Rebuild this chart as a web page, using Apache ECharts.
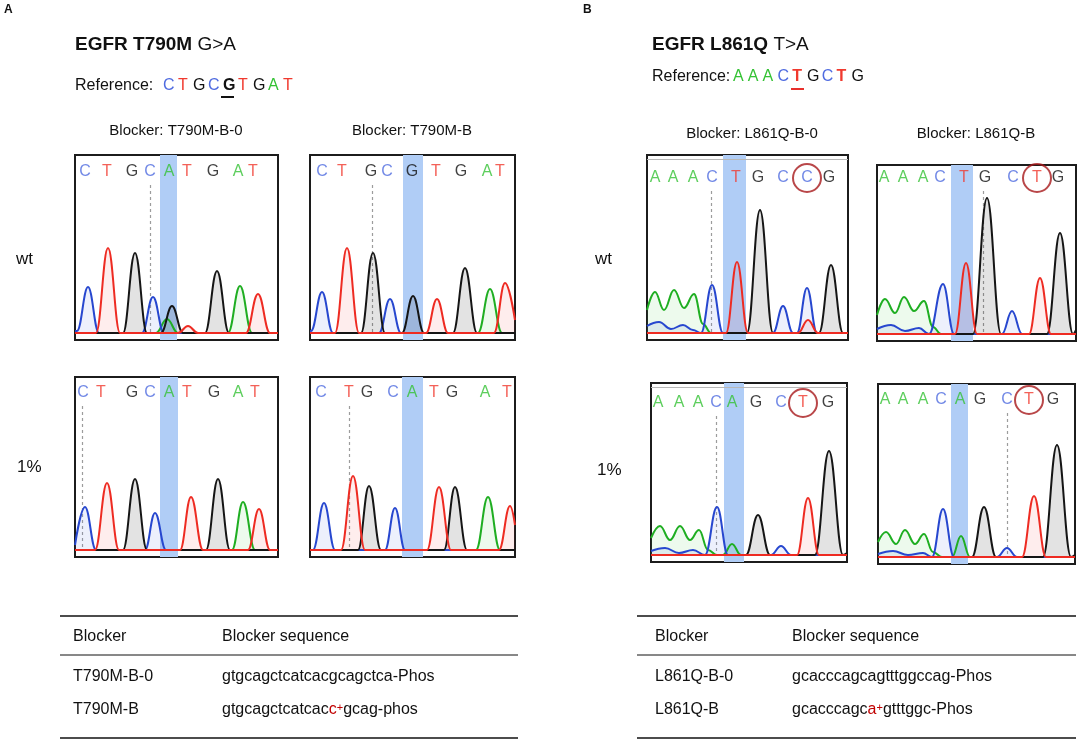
<!DOCTYPE html>
<html>
<head>
<meta charset="utf-8">
<script src="https://cdn.jsdelivr.net/npm/echarts@6/dist/echarts.min.js"></script>
<style>
  html, body { margin: 0; padding: 0; background: #fff; }
  #chart { width: 1084px; height: 740px; }
</style>
</head>
<body>
<div id="chart"></div>
<script>
const FONT = '"Liberation Sans", Arial, Helvetica, sans-serif';

// ---- reference sequences (titles) ----
const refA = ['C', 'T', 'G', 'C', 'G', 'T', 'G', 'A', 'T'];
const refB = ['A', 'A', 'A', 'C', 'T', 'G', 'C', 'T', 'G'];

// ---- base calls above each trace: letter + x (px from panel left) ----
const t790_wt_b0_calls = ['C', 'T', 'G', 'C', 'A', 'T', 'G', 'A', 'T'];
const t790_wt_b0_callX = [10, 32, 57, 75, 94, 112, 138, 163, 178];
const t790_wt_b_calls = ['C', 'T', 'G', 'C', 'G', 'T', 'G', 'A', 'T'];
const t790_wt_b_callX = [12, 32, 61, 77, 102, 126, 151, 177, 190];
const t790_mut_b0_calls = ['C', 'T', 'G', 'C', 'A', 'T', 'G', 'A', 'T'];
const t790_mut_b0_callX = [8, 26, 57, 75, 94, 112, 139, 163, 180];
const t790_mut_b_calls = ['C', 'T', 'G', 'C', 'A', 'T', 'G', 'A', 'T'];
const t790_mut_b_callX = [11, 39, 57, 83, 102, 124, 142, 175, 197];
const l861_wt_b0_calls = ['A', 'A', 'A', 'C', 'T', 'G', 'C', 'C', 'G'];
const l861_wt_b0_callX = [8, 26, 46, 65, 89, 111, 136, 160, 182];
const l861_wt_b_calls = ['A', 'A', 'A', 'C', 'T', 'G', 'C', 'T', 'G'];
const l861_wt_b_callX = [7, 26, 46, 63, 87, 108, 136, 160, 181];
const l861_mut_b0_calls = ['A', 'A', 'A', 'C', 'A', 'G', 'C', 'T', 'G'];
const l861_mut_b0_callX = [7, 28, 47, 65, 81, 105, 130, 152, 177];
const l861_mut_b_calls = ['A', 'A', 'A', 'C', 'A', 'G', 'C', 'T', 'G'];
const l861_mut_b_callX = [7, 25, 45, 63, 82, 102, 129, 151, 175];

// ---- traces: [x px from panel left, signal px above baseline] ----
// EGFR T790M, wt, blocker T790M-B-0
const t790_wt_b0_A = [[0, 1], [81, 1], [92, 15], [103, 1], [153, 1], [165, 48], [177, 1], [203, 1]];
const t790_wt_b0_C = [[0, 3], [2, 3], [13, 47], [24, 1], [67, 1], [78, 37], [89, 1], [203, 1]];
const t790_wt_b0_G = [[0, 1], [48, 1], [60, 81], [72, 1], [86, 1], [97, 28], [108, 1], [130, 1], [142, 63], [154, 1], [203, 1]];
const t790_wt_b0_T = [[0, 1], [21, 1], [33, 86], [45, 1], [103, 1], [113, 8], [123, 1], [171, 1], [183, 40], [195, 1], [203, 1]];
// EGFR T790M, wt, blocker T790M-B
const t790_wt_b_A = [[0, 1], [168, 1], [180, 45], [192, 1], [205, 1]];
const t790_wt_b_C = [[0, 3], [1, 3], [12, 42], [23, 1], [69, 1], [80, 35], [91, 1], [205, 1]];
const t790_wt_b_G = [[0, 1], [51, 1], [63, 81], [75, 1], [92, 1], [103, 38], [114, 1], [143, 1], [155, 66], [167, 1], [205, 1]];
const t790_wt_b_T = [[0, 1], [25, 1], [37, 86], [49, 1], [116, 1], [127, 35], [138, 1], [184, 1], [195, 51], [205, 14]];
// EGFR T790M, 1%, blocker T790M-B-0
const t790_mut_b0_A = [[0, 1], [157, 1], [168, 49], [180, 1], [203, 1]];
const t790_mut_b0_C = [[0, 6], [10, 44], [21, 1], [70, 1], [80, 38], [91, 1], [203, 1]];
const t790_mut_b0_G = [[0, 1], [48, 1], [60, 72], [72, 1], [131, 1], [143, 72], [155, 1], [203, 1]];
const t790_mut_b0_T = [[0, 1], [20, 1], [32, 68], [44, 1], [105, 1], [116, 54], [128, 1], [173, 1], [184, 42], [195, 1], [203, 1]];
// EGFR T790M, 1%, blocker T790M-B
const t790_mut_b_A = [[0, 1], [166, 1], [178, 54], [190, 1], [205, 1]];
const t790_mut_b_C = [[0, 1], [3, 1], [14, 48], [25, 1], [75, 1], [85, 43], [95, 1], [205, 1]];
const t790_mut_b_G = [[0, 1], [48, 1], [59, 65], [71, 1], [134, 1], [145, 64], [157, 1], [205, 1]];
const t790_mut_b_T = [[0, 1], [31, 1], [43, 75], [55, 1], [117, 1], [129, 64], [141, 1], [189, 1], [200, 45], [205, 26]];
// EGFR L861Q, wt, blocker L861Q-B-0
const l861_wt_b0_A = [[0, 24], [8, 42], [17, 24], [27, 44], [37, 26], [47, 40], [56, 10], [64, 1], [201, 1]];
const l861_wt_b0_C = [[0, 8], [12, 12], [24, 5], [36, 9], [46, 4], [54, 1], [65, 49], [76, 1], [126, 1], [136, 28], [146, 1], [150, 1], [160, 46], [170, 1], [201, 1]];
const l861_wt_b0_G = [[0, 1], [100, 1], [113, 124], [126, 1], [172, 1], [184, 69], [196, 1], [201, 1]];
const l861_wt_b0_T = [[0, 1], [79, 1], [90, 72], [101, 1], [151, 1], [161, 14], [171, 1], [201, 1]];
// EGFR L861Q, wt, blocker L861Q-B
const l861_wt_b_A = [[0, 20], [8, 36], [18, 22], [27, 38], [37, 24], [47, 34], [56, 8], [64, 1], [199, 1]];
const l861_wt_b_C = [[0, 6], [14, 10], [28, 4], [42, 7], [52, 1], [66, 51], [77, 1], [125, 1], [135, 24], [145, 1], [199, 1]];
const l861_wt_b_G = [[0, 1], [96, 1], [110, 137], [124, 1], [170, 1], [183, 102], [196, 1], [199, 5]];
const l861_wt_b_T = [[0, 1], [78, 1], [89, 72], [100, 1], [152, 1], [163, 57], [174, 1], [199, 1]];
// EGFR L861Q, 1%, blocker L861Q-B-0
const l861_mut_b0_A = [[0, 18], [9, 30], [19, 16], [29, 30], [39, 16], [48, 26], [57, 6], [66, 1], [72, 1], [81, 12], [90, 1], [196, 1]];
const l861_mut_b0_C = [[0, 5], [14, 8], [28, 3], [42, 6], [54, 1], [66, 49], [77, 1], [120, 1], [130, 10], [140, 1], [196, 1]];
const l861_mut_b0_G = [[0, 1], [95, 1], [107, 41], [119, 1], [164, 1], [178, 105], [192, 1], [196, 3]];
const l861_mut_b0_T = [[0, 1], [146, 1], [157, 58], [168, 1], [196, 1]];
// EGFR L861Q, 1%, blocker L861Q-B
const l861_mut_b_A = [[0, 16], [8, 26], [18, 14], [27, 28], [37, 14], [46, 24], [55, 6], [64, 1], [74, 1], [83, 22], [92, 1], [197, 1]];
const l861_mut_b_C = [[0, 4], [15, 7], [30, 3], [45, 5], [54, 1], [65, 49], [76, 1], [119, 1], [129, 10], [139, 1], [197, 1]];
const l861_mut_b_G = [[0, 1], [94, 1], [106, 51], [118, 1], [165, 1], [179, 113], [193, 1], [197, 3]];
const l861_mut_b_T = [[0, 1], [144, 1], [156, 62], [168, 1], [197, 1]];

// highlighted column [x0, x1], dashed marker x, circled base x
const hlX = [[85, 102], [93, 113], [85, 103], [92, 113], [76, 99], [74, 96], [73, 93], [73, 90]];
const dashX = [75, 62, 7, 39, 64, 106, 65, 129];
const circleX = [null, null, null, null, 160, 160, 152, 151];

// tables
const tableA = [['T790M-B-0', 'gtgcagctcatcacgcagctca-Phos'], ['T790M-B', 'gtgcagctcatcac{r|c}{s|+}gcag-phos']];
const tableB = [['L861Q-B-0', 'gcacccagcagtttggccag-Phos'], ['L861Q-B', 'gcacccagc{r|a}{s|+}gtttggc-Phos']];

// ---- colours ----
const LINE = { A: '#1fae22', C: '#2747cf', G: '#151515', T: '#ee2b22' };
const FILL = { A: 'rgba(70,200,70,0.14)', C: 'rgba(70,100,225,0.14)', G: 'rgba(20,20,20,0.17)', T: 'rgba(240,60,50,0.13)' };
const TEXTC = { A: '#34c234', C: '#4f6be0', G: '#111111', T: '#f0392e' };

// ---- panel layout: box [left, top, width, height], label offset from top ----
const panels = [
  { box: [75, 155, 203, 185], lab: 17, calls: t790_wt_b0_calls, callX: t790_wt_b0_callX, tr: { A: t790_wt_b0_A, C: t790_wt_b0_C, G: t790_wt_b0_G, T: t790_wt_b0_T } },
  { box: [310, 155, 205, 185], lab: 17, calls: t790_wt_b_calls, callX: t790_wt_b_callX, tr: { A: t790_wt_b_A, C: t790_wt_b_C, G: t790_wt_b_G, T: t790_wt_b_T } },
  { box: [75, 377, 203, 180], lab: 16, calls: t790_mut_b0_calls, callX: t790_mut_b0_callX, tr: { A: t790_mut_b0_A, C: t790_mut_b0_C, G: t790_mut_b0_G, T: t790_mut_b0_T } },
  { box: [310, 377, 205, 180], lab: 16, calls: t790_mut_b_calls, callX: t790_mut_b_callX, tr: { A: t790_mut_b_A, C: t790_mut_b_C, G: t790_mut_b_G, T: t790_mut_b_T } },
  { box: [647, 155, 201, 185], lab: 23, topLine: true, calls: l861_wt_b0_calls, callX: l861_wt_b0_callX, tr: { A: l861_wt_b0_A, C: l861_wt_b0_C, G: l861_wt_b0_G, T: l861_wt_b0_T } },
  { box: [877, 165, 199, 176], lab: 13, calls: l861_wt_b_calls, callX: l861_wt_b_callX, tr: { A: l861_wt_b_A, C: l861_wt_b_C, G: l861_wt_b_G, T: l861_wt_b_T } },
  { box: [651, 383, 196, 179], lab: 20, topLine: true, calls: l861_mut_b0_calls, callX: l861_mut_b0_callX, tr: { A: l861_mut_b0_A, C: l861_mut_b0_C, G: l861_mut_b0_G, T: l861_mut_b0_T } },
  { box: [878, 384, 197, 180], lab: 16, calls: l861_mut_b_calls, callX: l861_mut_b_callX, tr: { A: l861_mut_b_A, C: l861_mut_b_C, G: l861_mut_b_G, T: l861_mut_b_T } }
];
const BASE_OFF = 6;

const grid = [], xAxis = [], yAxis = [], series = [];

panels.forEach((p, i) => {
  const [l, t, w, h] = p.box;
  const yMax = h - BASE_OFF;
  const labY = yMax - p.lab;
  grid.push({ left: l, top: t, width: w, height: h, show: true, borderColor: '#1c1c1c', borderWidth: 2, backgroundColor: '#fff' });
  xAxis.push({ gridIndex: i, type: 'value', min: 0, max: w, show: false });
  yAxis.push({ gridIndex: i, type: 'value', min: -BASE_OFF, max: yMax, show: false });

  const lines = [[{ coord: [dashX[i], labY - 13] }, { coord: [dashX[i], 0] }]];
  if (p.topLine) {
    lines.push([{ coord: [0, yMax - 4], lineStyle: { color: '#b8b8b8', type: 'solid', width: 1 } },
                { coord: [w, yMax - 4] }]);
  }

  // base call letters + highlight + dashed marker
  series.push({
    type: 'scatter', xAxisIndex: i, yAxisIndex: i, z: 4, silent: true, animation: false,
    symbolSize: 1, itemStyle: { color: 'rgba(0,0,0,0)' },
    label: { show: true, position: 'inside', formatter: '{b}', fontFamily: FONT, fontSize: 16 },
    data: p.calls.map((b, k) => ({ name: b, value: [p.callX[k], labY], label: { color: TEXTC[b] } })),
    markArea: {
      silent: true, z: 1, itemStyle: { color: '#b0cdf6' },
      data: [[{ xAxis: hlX[i][0] }, { xAxis: hlX[i][1] }]]
    },
    markLine: {
      silent: true, z: 1, symbol: ['none', 'none'], label: { show: false },
      lineStyle: { color: '#9c9c9c', type: [3, 3], width: 1.2 },
      data: lines
    }
  });

  ['A', 'C', 'G', 'T'].forEach(b => {
    series.push({
      type: 'line', xAxisIndex: i, yAxisIndex: i, z: 2, silent: true, animation: false,
      data: p.tr[b], smooth: 0.42, smoothMonotone: 'x', symbol: 'none',
      lineStyle: { color: LINE[b], width: 2 },
      areaStyle: { color: FILL[b] }
    });
  });

  if (circleX[i] !== null) {
    series.push({
      type: 'scatter', xAxisIndex: i, yAxisIndex: i, z: 5, silent: true, animation: false,
      symbol: 'circle', symbolSize: 28,
      itemStyle: { color: 'rgba(0,0,0,0)', borderColor: '#a8191b', borderWidth: 2 },
      data: [[circleX[i], labY]]
    });
  }
});

// ---- text & rules ----
const graphic = [];
function txt(x, y, text, size, extra) {
  graphic.push({
    type: 'text', x: x, y: y, silent: true,
    style: Object.assign({
      text: text, fill: '#111', fontSize: size, fontFamily: FONT,
      textAlign: 'left', align: 'left', textVerticalAlign: 'middle', verticalAlign: 'middle'
    }, extra || {})
  });
}
function rule(x1, x2, y, width) {
  graphic.push({ type: 'line', silent: true, shape: { x1: x1, y1: y, x2: x2, y2: y }, style: { stroke: '#111', lineWidth: width } });
}
const bold = size => ({ fontWeight: 'bold', fontSize: size, fontFamily: FONT });

txt(4, 10, 'A', 12, { fontWeight: 'bold' });
txt(583, 10, 'B', 12, { fontWeight: 'bold' });
txt(75, 45, '{b|EGFR T790M} G>A', 19, { rich: { b: bold(19) } });
txt(652, 45, '{b|EGFR L861Q} T>A', 19, { rich: { b: bold(19) } });

txt(75, 86, 'Reference:', 16);
refA.forEach((b, k) => {
  const x = 163 + k * 15;
  txt(x, 86, b, 16, Object.assign({ fill: TEXTC[b] }, k === 4 ? { fontWeight: 'bold' } : {}));
});
graphic.push({ type: 'line', silent: true, shape: { x1: 221, y1: 97, x2: 234, y2: 97 }, style: { stroke: '#111', lineWidth: 2 } });

txt(652, 77, 'Reference:', 16);
refB.forEach((b, k) => {
  const x = 733 + k * 14.8;
  txt(x, 77, b, 16, Object.assign({ fill: TEXTC[b] }, (k === 4 || k === 7) ? { fontWeight: 'bold' } : {}));
});
graphic.push({ type: 'line', silent: true, shape: { x1: 791, y1: 89, x2: 804, y2: 89 }, style: { stroke: '#e8302c', lineWidth: 2 } });

txt(176, 131, 'Blocker: T790M-B-0', 15, { textAlign: 'center', align: 'center' });
txt(412, 131, 'Blocker: T790M-B', 15, { textAlign: 'center', align: 'center' });
txt(752, 134, 'Blocker: L861Q-B-0', 15, { textAlign: 'center', align: 'center' });
txt(976, 134, 'Blocker: L861Q-B', 15, { textAlign: 'center', align: 'center' });

txt(16, 259, 'wt', 17);
txt(17, 467, '1%', 17);
txt(595, 259, 'wt', 17);
txt(597, 470, '1%', 17);

const richSeq = {
  r: { fill: '#c00000', color: '#c00000', fontSize: 16, fontFamily: FONT },
  s: { fill: '#c00000', color: '#c00000', fontSize: 11, fontFamily: FONT, verticalAlign: 'top' }
};
function table(x0, x1, xName, xSeq, rows) {
  rule(x0, x1, 616, 1.5);
  rule(x0, x1, 655, 1);
  rule(x0, x1, 738, 1.5);
  txt(xName, 637, 'Blocker', 16);
  txt(xSeq, 637, 'Blocker sequence', 16);
  rows.forEach((r, k) => {
    const y = 677 + k * 33;
    txt(xName, y, r[0], 16);
    txt(xSeq, y, r[1], 16, { rich: richSeq });
  });
}
table(60, 518, 73, 222, tableA);
table(637, 1076, 655, 792, tableB);

const chart = echarts.init(document.getElementById('chart'), null, { renderer: 'canvas' });
chart.setOption({
  backgroundColor: '#ffffff',
  animation: false,
  grid: grid,
  xAxis: xAxis,
  yAxis: yAxis,
  series: series,
  graphic: graphic
});
</script>
</body>
</html>
